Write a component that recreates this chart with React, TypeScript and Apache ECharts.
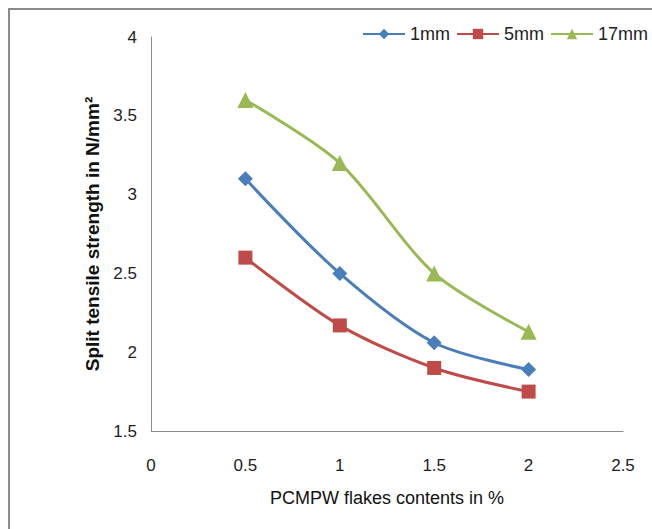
import React, { useEffect, useRef } from "react";
import * as echarts from "echarts";

const xValues = [0.5, 1, 1.5, 2];
const series1mm = [3.1, 2.5, 2.06, 1.89];
const series5mm = [2.6, 2.17, 1.9, 1.75];
const series17mm = [3.6, 3.2, 2.5, 2.13];
const seriesNames = ["1mm", "5mm", "17mm"];

const FONT = "Liberation Sans";

export default function App() {
  const ref = useRef<HTMLDivElement>(null);
  useEffect(() => {
    if (!ref.current) return;
    const chart = echarts.init(ref.current, null, { renderer: "svg" });
    const mk = (vals: number[]) => xValues.map((x, i) => [x, vals[i]]);
    chart.setOption({
      animation: false,
      backgroundColor: "#ffffff",
      textStyle: { fontFamily: FONT },
      graphic: [
        {
          type: "rect",
          shape: { x: 9, y: 9, width: 700, height: 600 },
          style: { fill: "none", stroke: "#8c8c8c", lineWidth: 2 },
          silent: true,
        },
      ],
      legend: {
        top: 25,
        left: 362,
        padding: 0,
        itemWidth: 42,
        itemHeight: 13,
        itemGap: 6,
        textStyle: { fontFamily: FONT, fontSize: 18, color: "#222" },
        data: seriesNames,
      },
      grid: { left: 151, right: 29, top: 37, bottom: 98 },
      xAxis: {
        type: "value",
        min: 0,
        max: 2.5,
        interval: 0.5,
        name: "PCMPW flakes contents in %",
        nameLocation: "middle",
        nameGap: 58,
        nameTextStyle: { fontFamily: FONT, fontSize: 18, color: "#111" },
        axisLine: { show: true, lineStyle: { color: "#8c8c8c", width: 1 } },
        axisTick: { show: false },
        splitLine: { show: false },
        axisLabel: { margin: 26, fontSize: 17, color: "#222", fontFamily: FONT },
      },
      yAxis: {
        type: "value",
        min: 1.5,
        max: 4,
        interval: 0.5,
        name: "Split tensile strength in N/mm²",
        nameLocation: "middle",
        nameGap: 48,
        nameTextStyle: { fontFamily: FONT, fontSize: 19, fontWeight: "bold", color: "#111" },
        axisLine: { show: true, lineStyle: { color: "#8c8c8c", width: 1 } },
        axisTick: { show: false },
        splitLine: { show: false },
        axisLabel: { margin: 14, fontSize: 17, color: "#222", fontFamily: FONT },
      },
      series: [
        {
          name: seriesNames[0],
          type: "line",
          data: mk(series1mm),
          smooth: 0.3,
          symbol: "diamond",
          symbolSize: 15,
          lineStyle: { color: "#4A7EBB", width: 3 },
          itemStyle: { color: "#4A7EBB" },
        },
        {
          name: seriesNames[1],
          type: "line",
          data: mk(series5mm),
          smooth: 0.3,
          symbol: "rect",
          symbolSize: 14,
          lineStyle: { color: "#BE4B48", width: 3 },
          itemStyle: { color: "#BE4B48" },
        },
        {
          name: seriesNames[2],
          type: "line",
          data: mk(series17mm),
          smooth: 0.3,
          symbol: "triangle",
          symbolSize: 16,
          lineStyle: { color: "#98B954", width: 3 },
          itemStyle: { color: "#98B954" },
        },
      ],
    });
    return () => chart.dispose();
  }, []);
  return (
    <div
      ref={ref}
      style={{ position: "fixed", left: 0, top: 0, width: 652, height: 529 }}
    />
  );
}
